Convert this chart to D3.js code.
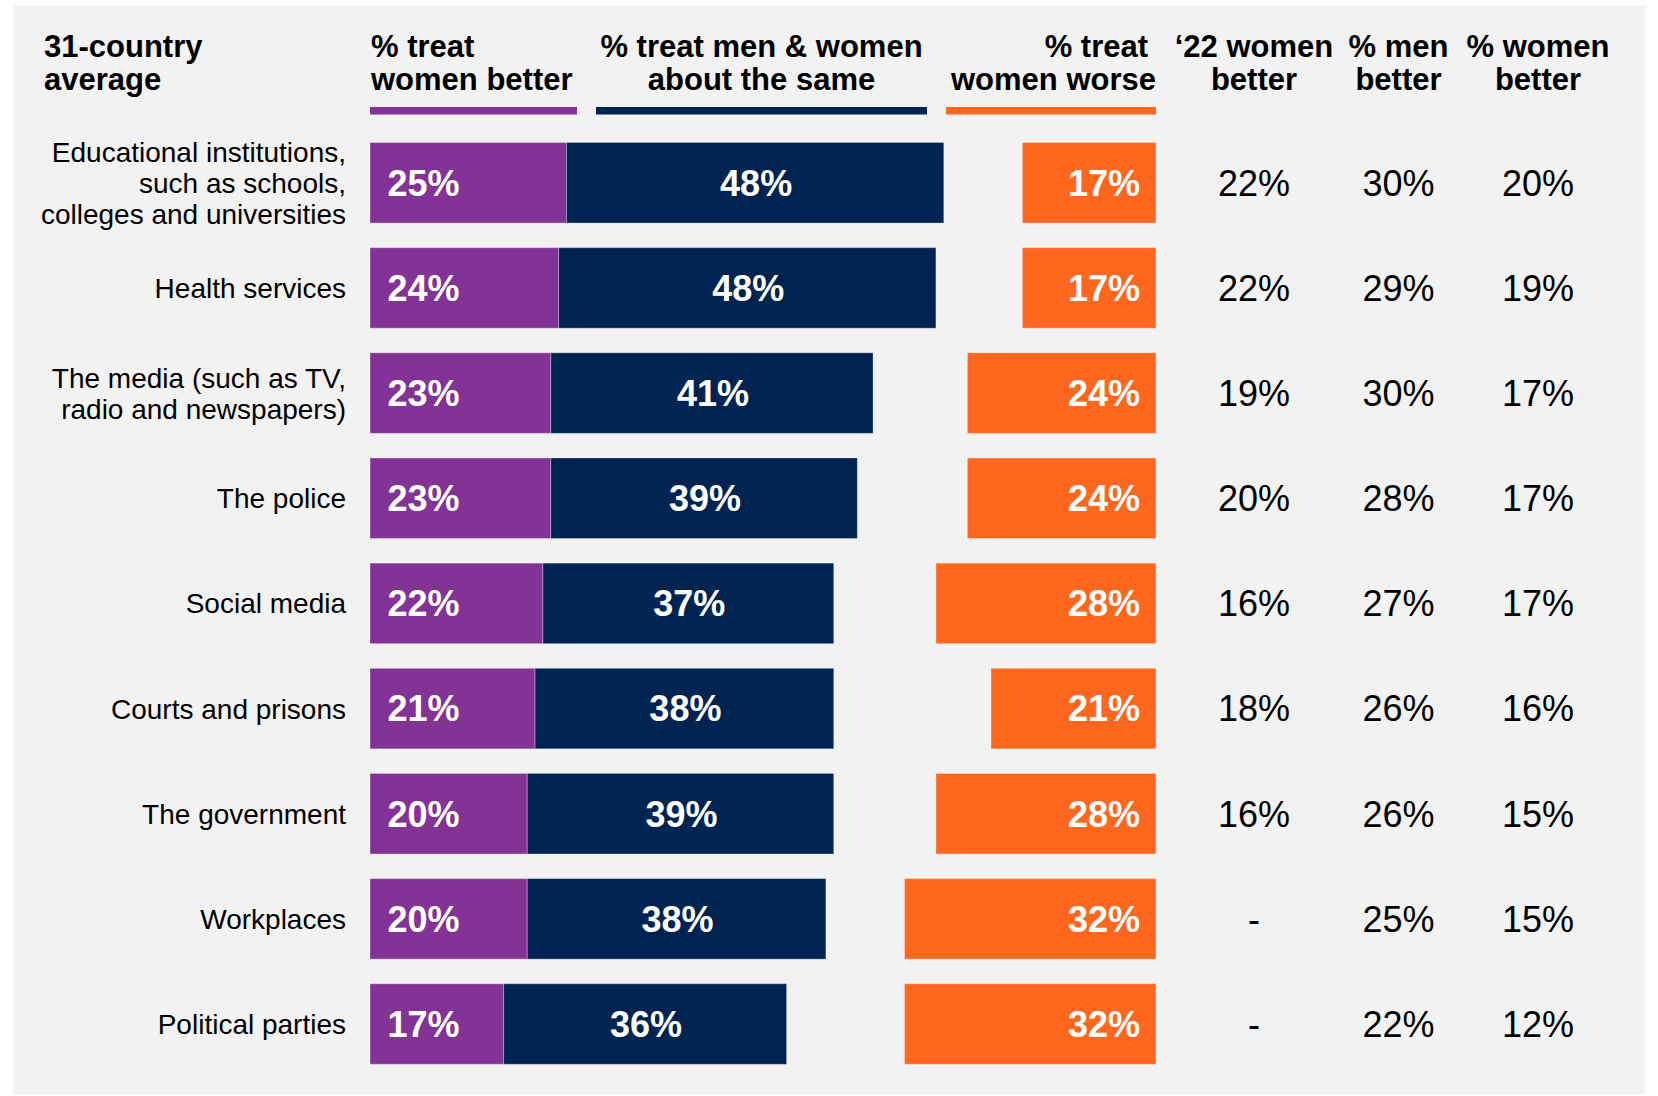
<!DOCTYPE html>
<html>
<head>
<meta charset="utf-8">
<script src="https://cdn.jsdelivr.net/npm/d3@7"></script>
<style>
  html, body { margin: 0; padding: 0; background: #ffffff; }
  svg { display: block; }
  text { font-family: "Liberation Sans", Arial, Helvetica, sans-serif; }
</style>
</head>
<body>
<svg id="chart" width="1658" height="1096"></svg>
<script>
// ---------- data ----------
const categories = [
  ["Educational institutions,", "such as schools,", "colleges and universities"],
  ["Health services"],
  ["The media (such as TV,", "radio and newspapers)"],
  ["The police"],
  ["Social media"],
  ["Courts and prisons"],
  ["The government"],
  ["Workplaces"],
  ["Political parties"]
];
const womenBetter = [25, 24, 23, 23, 22, 21, 20, 20, 17];
const aboutSame   = [48, 48, 41, 39, 37, 38, 39, 38, 36];
const womenWorse  = [17, 17, 24, 24, 28, 21, 28, 32, 32];
const women22     = ["22%", "22%", "19%", "20%", "16%", "18%", "16%", "-", "-"];
const menBetterCol   = ["30%", "29%", "30%", "28%", "27%", "26%", "26%", "25%", "22%"];
const womenBetterCol = ["20%", "19%", "17%", "17%", "17%", "16%", "15%", "15%", "12%"];

const headerTitle = ["31-country", "average"];
const headerBetter = ["% treat", "women better"];
const headerSame = ["% treat men & women", "about the same"];
const headerWorse = ["% treat", "women worse"];
const headerCols = [["\u201822 women", "better"], ["% men", "better"], ["% women", "better"]];

// ---------- styles ----------
const C_PURPLE = "#833396";
const C_NAVY = "#002452";
const C_ORANGE = "#FF671F";
const C_BG = "#F2F2F2";

const svg = d3.select("#chart");

svg.append("rect").attr("x", 13).attr("y", 5).attr("width", 1632).attr("height", 1089).attr("fill", C_BG);

const idx = d3.range(categories.length);
const x = d3.scaleLinear().domain([0, 100]).range([370, 370 + 786]);
const orangeRight = 1156;
const y = d3.scaleBand().domain(idx).range([142.5, 1064.3]).paddingInner(0.234).paddingOuter(0);
const bw = y.bandwidth();
const w = v => x(v) - x(0);

const colX = [1254, 1398.5, 1538];

// ---------- headers ----------
const hdr = svg.append("g").attr("font-weight", "bold").attr("font-size", 31).attr("fill", "#000");
const lineY = [57, 90];
headerTitle.forEach((t, i) => hdr.append("text").attr("x", 44).attr("y", lineY[i]).text(t));
headerBetter.forEach((t, i) => hdr.append("text").attr("x", 371).attr("y", lineY[i]).text(t));
headerSame.forEach((t, i) => hdr.append("text").attr("x", 761.5).attr("y", lineY[i]).attr("text-anchor", "middle").text(t));
headerWorse.forEach((t, i) => hdr.append("text").attr("x", i === 0 ? 1148 : 1156).attr("y", lineY[i]).attr("text-anchor", "end").text(t));
headerCols.forEach((lines, c) => lines.forEach((t, i) =>
  hdr.append("text").attr("x", colX[c]).attr("y", lineY[i]).attr("text-anchor", "middle").text(t)));

// header underlines
svg.append("rect").attr("x", 370).attr("y", 107).attr("width", 207).attr("height", 7.5).attr("fill", C_PURPLE);
svg.append("rect").attr("x", 596).attr("y", 107).attr("width", 331).attr("height", 7.5).attr("fill", C_NAVY);
svg.append("rect").attr("x", 946).attr("y", 107).attr("width", 210).attr("height", 7.5).attr("fill", C_ORANGE);

// ---------- rows ----------
const rows = svg.append("g").selectAll("g").data(idx).join("g");

rows.append("rect")
  .attr("x", x(0)).attr("y", i => y(i)).attr("width", i => w(womenBetter[i])).attr("height", bw)
  .attr("fill", C_PURPLE).attr("stroke", "rgba(255,255,255,0.35)").attr("stroke-width", 1);
rows.append("rect")
  .attr("x", i => x(womenBetter[i])).attr("y", i => y(i)).attr("width", i => w(aboutSame[i])).attr("height", bw)
  .attr("fill", C_NAVY).attr("stroke", "rgba(255,255,255,0.3)").attr("stroke-width", 1);
rows.append("rect")
  .attr("x", i => orangeRight - w(womenWorse[i])).attr("y", i => y(i)).attr("width", i => w(womenWorse[i])).attr("height", bw)
  .attr("fill", C_ORANGE).attr("stroke", "rgba(255,255,255,0.35)").attr("stroke-width", 1);

const cy = i => y(i) + bw / 2;

// bar labels
const bl = rows.append("g").attr("font-weight", "bold").attr("font-size", 36).attr("fill", "#fff");
bl.append("text").attr("x", x(0) + 17.5).attr("y", i => cy(i) + 12.8).text(i => womenBetter[i] + "%");
bl.append("text").attr("x", i => (x(womenBetter[i]) + x(womenBetter[i] + aboutSame[i])) / 2 + 1)
  .attr("y", i => cy(i) + 12.8).attr("text-anchor", "middle").text(i => aboutSame[i] + "%");
bl.append("text").attr("x", orangeRight - 16).attr("y", i => cy(i) + 12.8).attr("text-anchor", "end").text(i => womenWorse[i] + "%");

// category labels
rows.each(function(i) {
  const g = d3.select(this);
  const lines = categories[i];
  const n = lines.length;
  const lh = 31;
  lines.forEach((t, k) => {
    g.append("text").attr("x", 346).attr("y", cy(i) + 10 + (k - (n - 1) / 2) * lh)
      .attr("text-anchor", "end").attr("font-size", 28).attr("fill", "#000").text(t);
  });
});

// right columns
const cols = [women22, menBetterCol, womenBetterCol];
cols.forEach((arr, c) => {
  rows.append("text").attr("x", colX[c]).attr("y", i => cy(i) + 12.8)
    .attr("text-anchor", "middle").attr("font-size", 36).attr("fill", "#000").text(i => arr[i]);
});
</script>
</body>
</html>
